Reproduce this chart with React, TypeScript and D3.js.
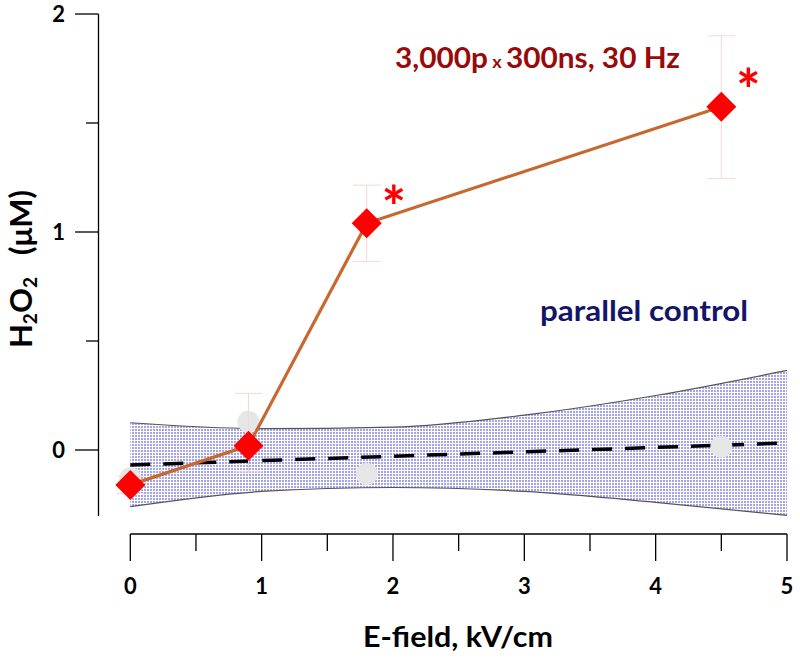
import React from "react";
import * as d3 from "d3";

const treatX = [0, 0.9, 1.8, 4.5];
const treatY = [-0.16, 0.02, 1.04, 1.575];
const treatErrLo = [-0.2, -0.1, 0.865, 1.245];
const treatErrHi = [-0.12, 0.26, 1.215, 1.9];
const starX = [1.8, 4.5];

const ctrlX = [0, 0.9, 1.8, 4.5];
const ctrlY = [-0.13, 0.13, -0.11, 0.015];

const fitX = [0, 5];
const fitY = [-0.069, 0.032];

const bandX = [0, 1, 2, 3, 4, 5];
const bandUpper = [0.125, 0.098, 0.105, 0.16, 0.25, 0.365];
const bandLower = [-0.26, -0.19, -0.172, -0.19, -0.24, -0.3];

const xTicks = [0, 1, 2, 3, 4, 5];
const xMinor = [0.5, 1.5, 2.5, 3.5, 4.5];
const yTicks = [0, 1, 2];
const yMinor = [0.5, 1.5];

export default function App() {
  const x = d3.scaleLinear().domain([0, 5]).range([130.3, 787]);
  const y = d3.scaleLinear().domain([0, 2]).range([450, 14]);
  const font = "Lato, 'Open Sans', sans-serif";

  const band = d3
    .area<number>()
    .x((_, i) => x(bandX[i]))
    .y0((_, i) => y(bandLower[i]))
    .y1((_, i) => y(bandUpper[i]))
    .curve(d3.curveMonotoneX);
  const upLine = d3
    .line<number>()
    .x((_, i) => x(bandX[i]))
    .y((d) => y(d))
    .curve(d3.curveMonotoneX);
  const trLine = d3
    .line<number>()
    .x((_, i) => x(treatX[i]))
    .y((d) => y(d));

  const dsz = 15;
  const axisY = 534;
  const starSize = 58;

  return (
    <svg width={800} height={658} style={{ position: "absolute", left: 0, top: 0 }}>
      <defs>
        <pattern id="dots" width={3} height={3} patternUnits="userSpaceOnUse">
          <rect width={3} height={3} fill="#ffffff" />
          <rect width={2} height={2} fill="#a3a3ee" />
        </pattern>
      </defs>
      <rect width={800} height={658} fill="#fff" />

      {/* band */}
      <path d={band(bandX) || ""} fill="url(#dots)" />
      <path d={upLine(bandUpper) || ""} fill="none" stroke="#555" strokeWidth={1.2} />
      <path d={upLine(bandLower) || ""} fill="none" stroke="#555" strokeWidth={1.2} />

      {/* y axis */}
      <line x1={98.5} x2={98.5} y1={y(2)} y2={y(-0.303)} stroke="#000" strokeWidth={1.3} />
      {yTicks.map((t) => (
        <g key={"yt" + t}>
          <line x1={75} x2={98.5} y1={y(t)} y2={y(t)} stroke="#000" strokeWidth={1.3} />
          <text x={65} y={y(t)} dy="0.36em" textAnchor="end" fontFamily={font} fontWeight="bold" fontSize={22}>
            {t}
          </text>
        </g>
      ))}
      {yMinor.map((t) => (
        <line key={"ym" + t} x1={86} x2={98.5} y1={y(t)} y2={y(t)} stroke="#000" strokeWidth={1.3} />
      ))}

      {/* x axis */}
      <line x1={x(0)} x2={x(5)} y1={axisY} y2={axisY} stroke="#000" strokeWidth={1.3} />
      {xTicks.map((t) => (
        <g key={"xt" + t}>
          <line x1={x(t)} x2={x(t)} y1={axisY} y2={561} stroke="#000" strokeWidth={1.3} />
          <text x={x(t)} y={586} dy="0.36em" textAnchor="middle" fontFamily={font} fontWeight="bold" fontSize={22}>
            {t}
          </text>
        </g>
      ))}
      {xMinor.map((t) => (
        <line key={"xm" + t} x1={x(t)} x2={x(t)} y1={axisY} y2={551} stroke="#000" strokeWidth={1.3} />
      ))}

      {/* axis titles */}
      <text
        x={458}
        y={647}
        textAnchor="middle"
        fontFamily={font}
        fontWeight="bold"
        fontSize={28}
        textLength={190}
        lengthAdjust="spacingAndGlyphs"
      >
        E-field, kV/cm
      </text>
      <text
        transform="translate(32,269) rotate(-90)"
        textAnchor="middle"
        fontFamily={font}
        fontWeight="bold"
        fontSize={31}
      >
        H<tspan fontSize={19} dy={5}>2</tspan>
        <tspan dy={-5}>O</tspan>
        <tspan fontSize={19} dy={5}>2</tspan>
        <tspan dy={-5} dx={22}>(μM)</tspan>
      </text>

      {/* control fit */}
      <line
        x1={x(fitX[0])}
        x2={x(fitX[1])}
        y1={y(fitY[0])}
        y2={y(fitY[1])}
        stroke="#000"
        strokeWidth={3.5}
        strokeDasharray="20 13"
      />

      {/* control points */}
      {ctrlX.map((v, i) => (
        <circle key={"c" + i} cx={x(v)} cy={y(ctrlY[i])} r={11} fill="#e6e6e6" />
      ))}

      {/* error bars */}
      {treatX.map((v, i) => (
        <g key={"e" + i} stroke="#f7d6d6" strokeWidth={1}>
          <line x1={x(v)} x2={x(v)} y1={y(treatErrLo[i])} y2={y(treatErrHi[i])} />
          <line x1={x(v) - 14} x2={x(v) + 14} y1={y(treatErrLo[i])} y2={y(treatErrLo[i])} />
          <line x1={x(v) - 14} x2={x(v) + 14} y1={y(treatErrHi[i])} y2={y(treatErrHi[i])} />
        </g>
      ))}

      {/* treatment line */}
      <path d={trLine(treatY) || ""} fill="none" stroke="#c8682e" strokeWidth={3.2} />
      {treatX.map((v, i) => {
        const cx = x(v);
        const cy = y(treatY[i]);
        return (
          <path
            key={"d" + i}
            d={`M${cx},${cy - dsz}L${cx + dsz},${cy}L${cx},${cy + dsz}L${cx - dsz},${cy}Z`}
            fill="#ff0000"
          />
        );
      })}
      {starX.map((v, i) => (
        <text
          key={"s" + i}
          x={x(v) + 27}
          y={y(treatY[treatX.indexOf(v)]) - 28 + 0.56 * starSize}
          textAnchor="middle"
          fontFamily={font}
          fontWeight="bold"
          fontSize={starSize}
          fill="#ff0000"
        >
          *
        </text>
      ))}

      {/* annotations */}
      <text
        x={395}
        y={68}
        fontFamily={font}
        fontWeight="bold"
        fontSize={28}
        fill="#9b0a0a"
        textLength={285}
        lengthAdjust="spacingAndGlyphs"
      >
        3,000p<tspan fontSize={17} dx={4}>x</tspan>
        <tspan dx={4}>300ns, 30 Hz</tspan>
      </text>
      <text
        x={540}
        y={321}
        fontFamily={font}
        fontWeight="bold"
        fontSize={28}
        fill="#141468"
        textLength={208}
        lengthAdjust="spacingAndGlyphs"
      >
        parallel control
      </text>
    </svg>
  );
}
